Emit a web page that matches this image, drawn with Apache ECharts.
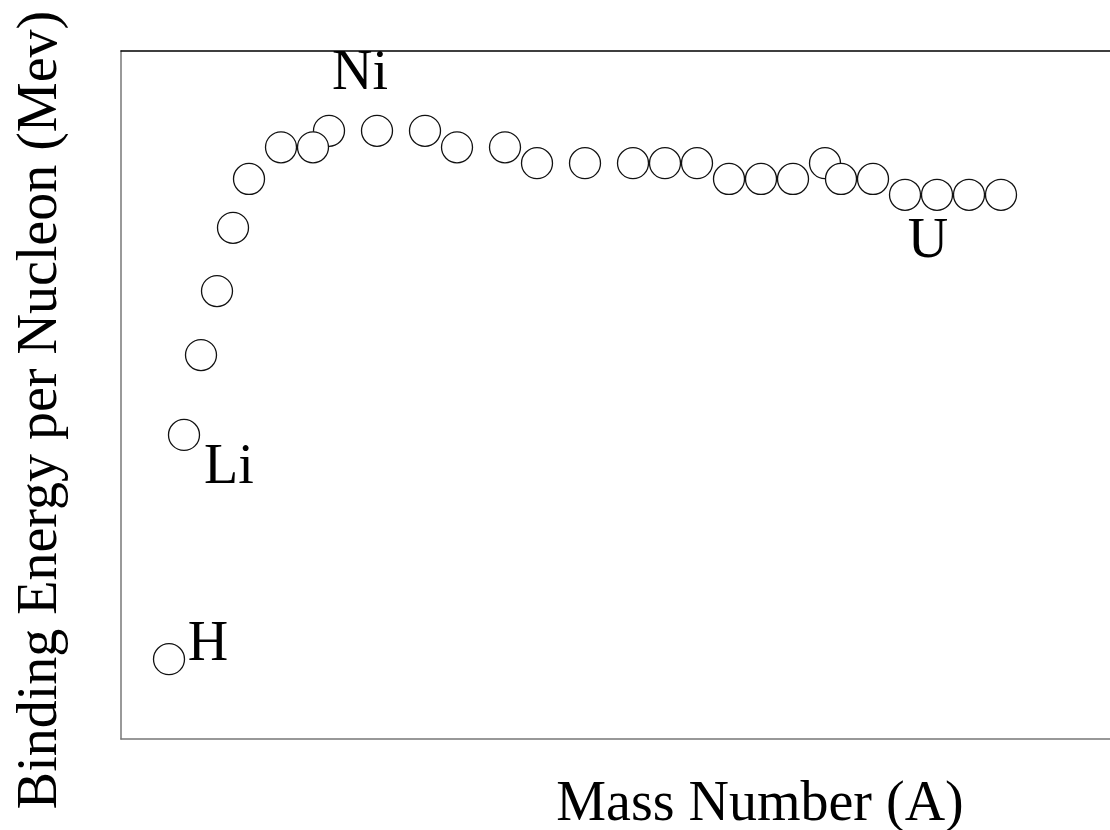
<!DOCTYPE html>
<html>
<head>
<meta charset="utf-8">
<script src="https://cdn.jsdelivr.net/npm/echarts@6/dist/echarts.min.js"></script>
<style>
html,body{margin:0;padding:0;background:#fff;}
#chart{width:1110px;height:830px;}
</style>
</head>
<body>
<div id="chart"></div>
<script>
// Mass number positions (arbitrary scale as drawn) and binding energy per nucleon (MeV)
const massNumbers = [12, 15.75, 20, 24, 28, 32, 40, 48, 52, 64, 76, 84, 96, 104, 116, 128, 136, 144, 152, 160, 168, 176, 180, 188, 196, 204, 212, 220];
const bindingEnergy = [1.16, 4.42, 5.58, 6.51, 7.43, 8.14, 8.60, 8.60, 8.84, 8.84, 8.84, 8.60, 8.60, 8.37, 8.37, 8.37, 8.37, 8.37, 8.14, 8.14, 8.14, 8.37, 8.14, 8.14, 7.91, 7.91, 7.91, 7.91];
const elementLabels = { 0: 'H', 1: 'Li', 9: 'Ni', 25: 'U' };
const xTitle = 'Mass Number (A)';
const yTitle = 'Binding Energy per Nucleon (Mev)';

const FONT = '"Liberation Serif", "Times New Roman", serif';
const labelOffsets = { 0: [39, -14], 1: [45, 33], 9: [-17, -57], 25: [-9, 48] };

let items = massNumbers.map((x, i) => {
  const item = { value: [x, bindingEnergy[i]], idx: i };
  if (elementLabels[i]) {
    item.label = {
      show: true,
      formatter: elementLabels[i],
      position: 'inside',
      offset: labelOffsets[i],
      fontFamily: FONT,
      fontSize: 56,
      color: '#000'
    };
  }
  return item;
});
// draw higher points first so lower ones overlap them
items.sort((a, b) => b.value[1] - a.value[1] || a.idx - b.idx);

const chart = echarts.init(document.getElementById('chart'), null, { renderer: 'canvas' });
chart.setOption({
  animation: false,
  backgroundColor: '#fff',
  grid: { left: 121, top: 51, right: 0, bottom: 91, containLabel: false },
  xAxis: [{
    type: 'value', min: 0, max: 247.25, position: 'bottom',
    axisLine: { show: true, onZero: false, lineStyle: { color: '#777', width: 1.5 } },
    axisTick: { show: false }, axisLabel: { show: false }, splitLine: { show: false }
  }, {
    type: 'value', min: 0, max: 247.25, position: 'top',
    axisLine: { show: true, onZero: false, lineStyle: { color: '#000', width: 1.5 } },
    axisTick: { show: false }, axisLabel: { show: false }, splitLine: { show: false }
  }],
  yAxis: {
    type: 'value', min: 0, max: 10,
    axisLine: { show: true, onZero: false, lineStyle: { color: '#777', width: 1.5 } },
    axisTick: { show: false }, axisLabel: { show: false }, splitLine: { show: false }
  },
  series: [{
    type: 'scatter',
    symbol: 'circle',
    symbolSize: 31,
    itemStyle: { color: '#fff', borderColor: '#111', borderWidth: 1.3, opacity: 1 },
    emphasis: { disabled: true },
    data: items
  }],
  graphic: [
    { type: 'text', x: 760, y: 805, style: { text: xTitle, font: '56px ' + FONT, fill: '#000', align: 'center', verticalAlign: 'middle' } },
    { type: 'text', x: 41, y: 410, rotation: Math.PI / 2, style: { text: yTitle, font: '56px ' + FONT, fill: '#000', align: 'center', verticalAlign: 'middle' } }
  ]
});
</script>
</body>
</html>
